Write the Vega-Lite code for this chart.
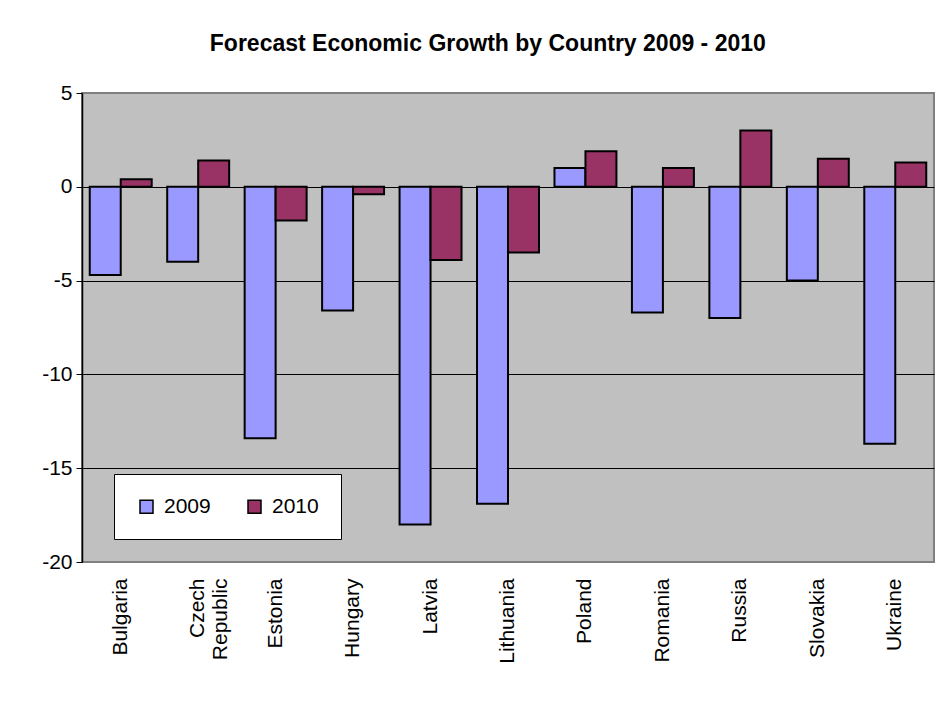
{
  "$schema": "https://vega.github.io/schema/vega-lite/v6.json",
  "width": 852,
  "height": 469,
  "padding": {"left": 41, "top": 33, "right": 8, "bottom": 5},
  "background": "white",
  "title": {
    "text": "Forecast Economic Growth by Country 2009 - 2010",
    "font": "Liberation Sans",
    "fontSize": 23,
    "fontWeight": "bold",
    "color": "black",
    "anchor": "middle",
    "frame": "bounds",
    "offset": 26
  },
  "data": {
    "values": [
      {"country": "Bulgaria", "year": "2009", "value": -4.7},
      {"country": "Bulgaria", "year": "2010", "value": 0.4},
      {"country": "Czech Republic", "year": "2009", "value": -4.0},
      {"country": "Czech Republic", "year": "2010", "value": 1.4},
      {"country": "Estonia", "year": "2009", "value": -13.4},
      {"country": "Estonia", "year": "2010", "value": -1.8},
      {"country": "Hungary", "year": "2009", "value": -6.6},
      {"country": "Hungary", "year": "2010", "value": -0.4},
      {"country": "Latvia", "year": "2009", "value": -18.0},
      {"country": "Latvia", "year": "2010", "value": -3.9},
      {"country": "Lithuania", "year": "2009", "value": -16.9},
      {"country": "Lithuania", "year": "2010", "value": -3.5},
      {"country": "Poland", "year": "2009", "value": 1.0},
      {"country": "Poland", "year": "2010", "value": 1.9},
      {"country": "Romania", "year": "2009", "value": -6.7},
      {"country": "Romania", "year": "2010", "value": 1.0},
      {"country": "Russia", "year": "2009", "value": -7.0},
      {"country": "Russia", "year": "2010", "value": 3.0},
      {"country": "Slovakia", "year": "2009", "value": -5.0},
      {"country": "Slovakia", "year": "2010", "value": 1.5},
      {"country": "Ukraine", "year": "2009", "value": -13.7},
      {"country": "Ukraine", "year": "2010", "value": 1.3}
    ]
  },
  "mark": {"type": "bar", "stroke": "black", "strokeWidth": 2},
  "encoding": {
    "x": {
      "field": "country",
      "type": "nominal",
      "sort": null,
      "scale": {"paddingInner": 0.2, "paddingOuter": 0.1},
      "axis": {
        "title": null,
        "labelAngle": -90,
        "labelFontSize": 21,
        "labelColor": "black",
        "domain": false,
        "ticks": false,
        "labelPadding": 16,
        "labelExpr": "datum.value == 'Czech Republic' ? ['Czech', 'Republic'] : datum.value"
      }
    },
    "xOffset": {"field": "year", "type": "nominal", "scale": {"paddingInner": 0, "paddingOuter": 0}},
    "y": {
      "field": "value",
      "type": "quantitative",
      "scale": {"domain": [-20, 5], "nice": false, "zero": false},
      "axis": {
        "title": null,
        "values": [-20, -15, -10, -5, 0, 5],
        "labelExpr": "replace(datum.label, '\u2212', '-')",
        "labelFontSize": 21,
        "labelColor": "black",
        "domainColor": "black",
        "domainWidth": 1.5,
        "tickColor": "black",
        "tickSize": 6,
        "labelPadding": 4,
        "gridColor": {"condition": {"test": "datum.value == 5 || datum.value == -20", "value": "#808080"}, "value": "black"},
        "gridWidth": 1,
        "gridOpacity": 1
      }
    },
    "color": {
      "field": "year",
      "type": "nominal",
      "scale": {"range": ["#9999FF", "#993366"]},
      "legend": {
        "title": null,
        "orient": "none",
        "legendX": 32,
        "legendY": 381,
        "direction": "horizontal",
        "fillColor": "white",
        "strokeColor": "black",
        "padding": 22,
        "symbolType": "square",
        "symbolSize": 169,
        "symbolStrokeColor": "black",
        "symbolStrokeWidth": 1.5,
        "symbolOpacity": 1,
        "labelFontSize": 21,
        "labelColor": "black",
        "labelOffset": 7,
        "columnPadding": 33
      }
    }
  },
  "config": {
    "font": "Liberation Sans",
    "view": {"fill": "#C0C0C0", "stroke": "#808080", "strokeWidth": 2}
  }
}
